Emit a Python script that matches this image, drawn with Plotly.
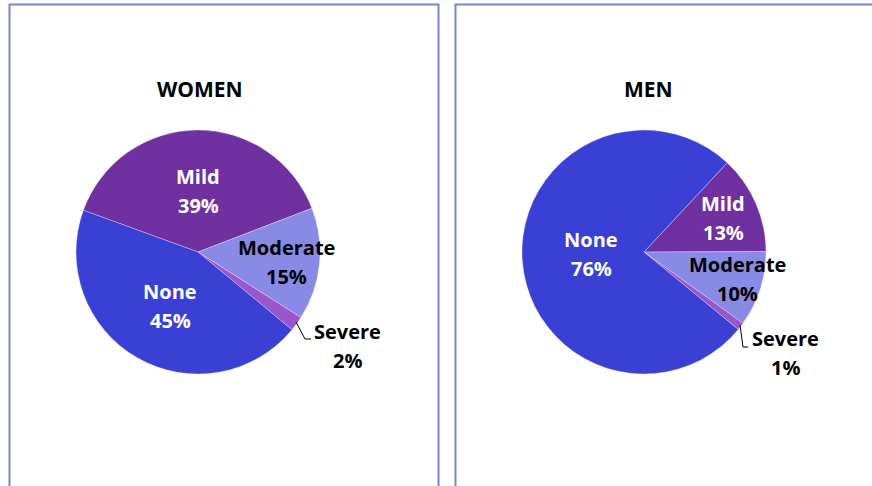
import plotly.graph_objects as go

# Severity groups, listed clockwise from the first slice
categories = ["Mild", "Moderate", "Severe", "None"]
women_pct = [39, 15, 2, 45]
men_pct = [13, 10, 1, 76]
panel_titles = ["WOMEN", "MEN"]

colors = ["#7030A0", "#8989E6", "#9B55CD", "#3B40D4"]
text_colors = {"Mild": "white", "None": "white", "Moderate": "black", "Severe": "black"}

W, H = 872, 486
FONT = "Open Sans"


def px(x):
    return x / W


def py(y):
    return 1 - y / H


fig = go.Figure()

# pie geometry (pixel centre, radius) and start angle for each panel
pies = [
    dict(values=women_pct, cx=198, cy=252, r=122, rotation=-70),
    dict(values=men_pct, cx=644, cy=252, r=122, rotation=43),
]

for p in pies:
    fig.add_trace(go.Pie(
        labels=categories,
        values=p["values"],
        sort=False,
        direction="clockwise",
        rotation=p["rotation"],
        marker=dict(colors=colors, line=dict(color="rgba(255,255,255,0.5)", width=0.6)),
        textinfo="none",
        hoverinfo="label+value",
        showlegend=False,
        domain=dict(x=[px(p["cx"] - p["r"]), px(p["cx"] + p["r"])],
                    y=[py(p["cy"] + p["r"]), py(p["cy"] - p["r"])]),
    ))

# label anchor points (pixel coords of each two-line label centre)
label_pos = [
    {"Mild": (198, 191), "Moderate": (286, 262), "Severe": (347, 346), "None": (170, 306)},
    {"Mild": (723, 218), "Moderate": (737, 279), "Severe": (785, 353), "None": (591, 254)},
]

annotations = []
for p, pos in zip(pies, label_pos):
    for cat, val in zip(categories, p["values"]):
        x, y = pos[cat]
        for k, line in enumerate([cat, f"{val}%"]):
            annotations.append(dict(
                x=px(x), y=py(y - 14.5 + 29 * k), xref="paper", yref="paper",
                text=line, showarrow=False, xanchor="center", yanchor="middle",
                font=dict(family=FONT, size=20, color=text_colors[cat], weight="bold"),
            ))

for title, cx in zip(panel_titles, [200, 648]):
    annotations.append(dict(
        x=px(cx), y=py(89), xref="paper", yref="paper", text=title,
        showarrow=False, xanchor="center", yanchor="middle",
        font=dict(family=FONT, size=21, color="black", weight="bold"),
    ))

shapes = [
    # panel frames
    dict(type="rect", xref="paper", yref="paper",
         x0=px(9.5), x1=px(438.5), y0=py(500), y1=py(4.5),
         line=dict(color="#7C84CA", width=2), fillcolor="rgba(0,0,0,0)"),
    dict(type="rect", xref="paper", yref="paper",
         x0=px(455.5), x1=px(900), y0=py(500), y1=py(4.5),
         line=dict(color="#7C84CA", width=2), fillcolor="rgba(0,0,0,0)"),
    # leader lines for the small "Severe" slices
    dict(type="path", xref="paper", yref="paper",
         path=f"M {px(296)} {py(322)} L {px(305)} {py(339)} L {px(311)} {py(339)}",
         line=dict(color="black", width=1)),
    dict(type="path", xref="paper", yref="paper",
         path=f"M {px(740)} {py(325)} L {px(743)} {py(347)} L {px(748)} {py(347)}",
         line=dict(color="black", width=1)),
]

fig.update_layout(
    width=W, height=H,
    margin=dict(l=0, r=0, t=0, b=0),
    paper_bgcolor="white", plot_bgcolor="white",
    annotations=annotations, shapes=shapes,
)

fig.write_html("out.html")
